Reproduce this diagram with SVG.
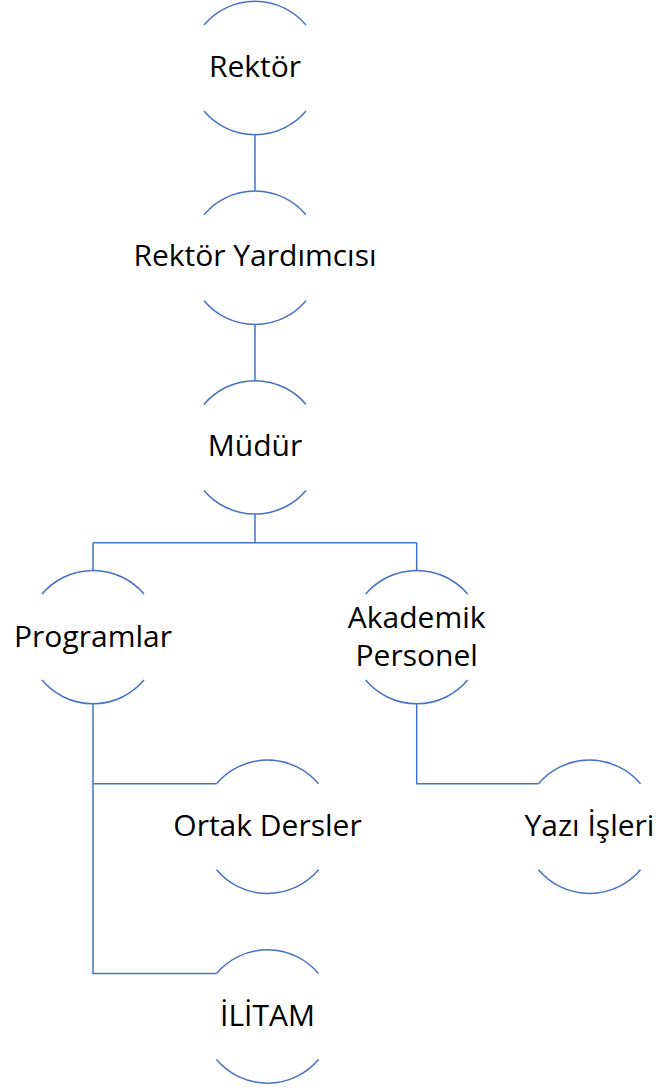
<svg xmlns="http://www.w3.org/2000/svg" width="658" height="1092" viewBox="0 0 658 1092">
  <style>
    .arc { fill: none; stroke: #4472C4; stroke-width: 1.5; }
    .conn { fill: none; stroke: #4472C4; stroke-width: 1.5; }
    .lbl { font-family: "Open Sans", "Noto Sans", "DejaVu Sans", sans-serif; font-size: 30px; fill: #000; text-anchor: middle; }
  </style>
  <rect width="658" height="1092" fill="#ffffff"/>
  <g id="connectors">
    <path class="conn" d="M255,134.7 V191"/>
    <path class="conn" d="M255,324.4 V380.7"/>
    <path class="conn" d="M255,514.1 V542.7"/>
    <path class="conn" d="M93,542.7 H416.7"/>
    <path class="conn" d="M93,542.7 V570.4"/>
    <path class="conn" d="M416.7,542.7 V570.4"/>
    <path class="conn" d="M93,703.8 V973.5 H216.5"/>
    <path class="conn" d="M93,783.8 H216.5"/>
    <path class="conn" d="M416.7,703.8 V783.8 H538.5"/>
  </g>
  <g id="node-rektor">
    <path class="arc" d="M204,25 A66.7,66.7 0 0 1 306,25"/>
    <path class="arc" d="M204,111 A66.7,66.7 0 0 0 306,111"/>
    <text class="lbl" x="255" y="77">Rektör</text>
  </g>
  <g id="node-rektor-yardimcisi">
    <path class="arc" d="M204,214.7 A66.7,66.7 0 0 1 306,214.7"/>
    <path class="arc" d="M204,300.7 A66.7,66.7 0 0 0 306,300.7"/>
    <text class="lbl" x="255" y="266.4">Rektör Yardımcısı</text>
  </g>
  <g id="node-mudur">
    <path class="arc" d="M204,404.4 A66.7,66.7 0 0 1 306,404.4"/>
    <path class="arc" d="M204,490.4 A66.7,66.7 0 0 0 306,490.4"/>
    <text class="lbl" x="255" y="456">Müdür</text>
  </g>
  <g id="node-programlar">
    <path class="arc" d="M42,594.1 A66.7,66.7 0 0 1 144,594.1"/>
    <path class="arc" d="M42,680.1 A66.7,66.7 0 0 0 144,680.1"/>
    <text class="lbl" x="93" y="647">Programlar</text>
  </g>
  <g id="node-akademik-personel">
    <path class="arc" d="M365.7,594.1 A66.7,66.7 0 0 1 467.7,594.1"/>
    <path class="arc" d="M365.7,680.1 A66.7,66.7 0 0 0 467.7,680.1"/>
    <text class="lbl" x="416.7" y="627.5">Akademik</text>
    <text class="lbl" x="416.7" y="665.5">Personel</text>
  </g>
  <g id="node-ortak-dersler">
    <path class="arc" d="M216.5,783.8 A66.7,66.7 0 0 1 318.5,783.8"/>
    <path class="arc" d="M216.5,869.8 A66.7,66.7 0 0 0 318.5,869.8"/>
    <text class="lbl" x="267.5" y="836">Ortak Dersler</text>
  </g>
  <g id="node-yazi-isleri">
    <path class="arc" d="M538.5,783.8 A66.7,66.7 0 0 1 640.5,783.8"/>
    <path class="arc" d="M538.5,869.8 A66.7,66.7 0 0 0 640.5,869.8"/>
    <text class="lbl" x="589.5" y="836">Yazı İşleri</text>
  </g>
  <g id="node-ilitam">
    <path class="arc" d="M216.5,973.5 A66.7,66.7 0 0 1 318.5,973.5"/>
    <path class="arc" d="M216.5,1059.5 A66.7,66.7 0 0 0 318.5,1059.5"/>
    <text class="lbl" x="267.5" y="1025.5">İLİTAM</text>
  </g>
</svg>
